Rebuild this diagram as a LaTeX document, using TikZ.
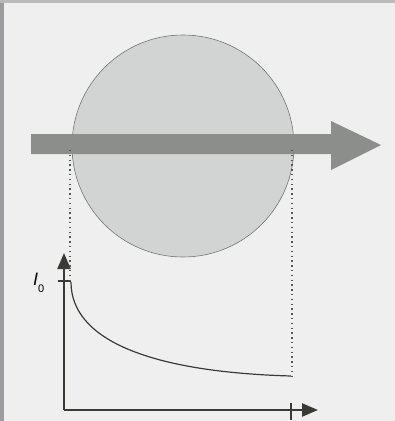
\documentclass[tikz,border=0pt]{standalone}
\usepackage{fontspec}
\setmainfont{Liberation Sans}
\usetikzlibrary{arrows.meta}

\definecolor{paper}{HTML}{EFEFF0}
\definecolor{frame}{HTML}{9C9C9E}
\definecolor{disc}{HTML}{D2D4D4}
\definecolor{beam}{HTML}{8C8E8C}
\definecolor{ink}{HTML}{3A3A36}

\begin{document}
\begin{tikzpicture}[
  x=1pt, y=-1pt,
  axis/.style={ink, line width=2.4pt, -{Triangle[length=16pt, width=13pt]}},
  guide/.style={ink!85, line width=1.3pt, dash pattern=on 1.3pt off 3.5pt},
  tick/.style={ink, line width=1.2pt}
]
% paper and frame
\fill[paper] (0,0) rectangle (395,421);
\useasboundingbox (0,0) rectangle (395,421);
\fill[frame] (0,0) rectangle (4,421);
\fill[frame!70] (0,0) rectangle (395,3);

% disc and beam
\coordinate (c) at (183,146);
\filldraw[fill=disc, draw=ink!70, line width=0.6pt] (c) circle[radius=111];
\fill[beam] (31,134) -- (331,134) -- (331,121) -- (381,145)
  -- (331,170) -- (331,154) -- (31,154) -- cycle;

% axes
\coordinate (o) at (64,410);
\coordinate (ytop) at (64,253);
\coordinate (xend) at (318,410);
\draw[axis] (o) -- (ytop);
\draw[axis] (o) -- (xend);

% ticks
\coordinate (ya) at (58,281);
\coordinate (yb) at (71,281);
\coordinate (xa) at (291,403);
\coordinate (xb) at (291,420);
\draw[tick] (ya) -- (yb);
\draw[tick] (xa) -- (xb);

% guides from the disc edges
\coordinate (gl) at (70,150);
\coordinate (gl2) at (70,283);
\coordinate (gr) at (292,150);
\coordinate (gr2) at (292,376);
\draw[guide] (gl) -- (gl2);
\draw[guide] (gr) -- (gr2);

% decay curve
\coordinate (i0) at (71,282);
\coordinate (iend) at (291,376);
\draw[ink, line width=1.2pt] (i0) .. controls (71,340) and (150,372) .. (iend);

\node[anchor=base west, inner sep=0pt, font=\fontsize{18}{18}\selectfont]
  (lbl) at (33,285) {\textit{I}\raisebox{-7pt}{\fontsize{11}{11}\selectfont 0}};
\end{tikzpicture}
\end{document}
